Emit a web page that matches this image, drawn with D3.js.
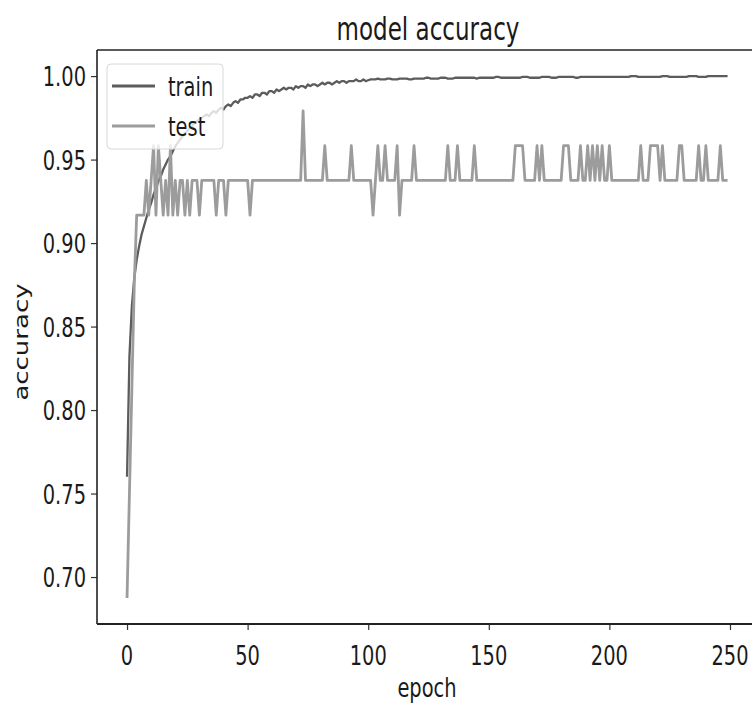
<!DOCTYPE html>
<html><head><meta charset="utf-8">
<script src="https://cdn.jsdelivr.net/npm/d3@7"></script>
<style>html,body{margin:0;padding:0;background:#fff;overflow:hidden}</style>
</head><body>
<script>
const epochs = d3.range(0, 250);
const trainAcc = [
0.760,0.832,0.862,0.879,0.890,0.898,0.905,0.910,0.915,0.920,
0.924,0.929,0.933,0.937,0.940,0.944,0.947,0.950,0.952,0.955,
0.958,0.960,0.962,0.964,0.966,0.967,0.969,0.970,0.972,0.973,
0.974,0.975,0.976,0.977,0.976,0.978,0.979,0.978,0.980,0.981,
0.980,0.982,0.983,0.982,0.984,0.985,0.984,0.986,0.986,0.987,
0.987,0.988,0.987,0.989,0.989,0.988,0.990,0.990,0.989,0.991,
0.991,0.990,0.992,0.991,0.992,0.993,0.992,0.993,0.993,0.992,
0.994,0.993,0.994,0.994,0.993,0.995,0.994,0.995,0.995,0.994,
0.995,0.996,0.995,0.996,0.996,0.995,0.996,0.997,0.996,0.997,
0.997,0.996,0.997,0.997,0.997,0.998,0.997,0.997,0.998,0.997,
0.9975,0.998,0.998,0.998,0.9985,0.998,0.998,0.998,0.9985,0.9985,
0.998,0.998,0.998,0.9985,0.9985,0.9985,0.9985,0.998,0.998,0.9985,
0.9985,0.9985,0.9985,0.9985,0.999,0.999,0.9985,0.9985,0.9985,0.9985,
0.999,0.999,0.999,0.9985,0.9985,0.9985,0.999,0.999,0.999,0.999,
0.999,0.999,0.999,0.999,0.999,0.9985,0.999,0.999,0.999,0.999,
0.999,0.999,0.999,0.9995,0.9995,0.999,0.999,0.999,0.999,0.999,
0.999,0.999,0.999,0.999,0.9995,0.9995,0.9995,0.999,0.999,0.999,
0.999,0.999,0.9995,0.9995,0.9995,0.9995,0.999,0.999,0.999,0.9995,
0.9995,0.9995,0.9995,0.9995,0.9995,0.9995,0.999,0.999,0.9995,0.9995,
0.9995,0.9995,0.9995,0.9995,0.9995,0.9995,0.9995,0.9995,0.9995,0.9995,
0.9995,0.9995,0.9995,0.9995,0.9995,0.9995,0.9995,0.9995,0.9995,1.0,
1.0,1.0,0.9995,0.9995,0.9995,0.9995,0.9995,0.9995,0.9995,0.9995,
0.9995,0.9995,1.0,1.0,1.0,0.9995,0.9995,0.9995,0.9995,0.9995,
0.9995,0.9995,0.9995,1.0,1.0,1.0,1.0,0.9995,0.9995,0.9995,
0.9995,1.0,1.0,1.0,1.0,1.0,1.0,1.0,1.0,1.0
];
const testAcc = [
0.6875,0.75,0.8125,0.875,0.9167,0.9167,0.9167,0.9167,0.9375,0.9167,
0.9375,0.9583,0.9167,0.9583,0.9375,0.9167,0.9375,0.9167,0.9583,0.9167,
0.9375,0.9167,0.9375,0.9375,0.9167,0.9375,0.9167,0.9375,0.9375,0.9375,
0.9167,0.9375,0.9375,0.9375,0.9375,0.9375,0.9375,0.9167,0.9375,0.9375,
0.9375,0.9167,0.9375,0.9375,0.9375,0.9375,0.9375,0.9375,0.9375,0.9375,
0.9375,0.9167,0.9375,0.9375,0.9375,0.9375,0.9375,0.9375,0.9375,0.9375,
0.9375,0.9375,0.9375,0.9375,0.9375,0.9375,0.9375,0.9375,0.9375,0.9375,
0.9375,0.9375,0.9375,0.9792,0.9375,0.9375,0.9375,0.9375,0.9375,0.9375,
0.9375,0.9375,0.9583,0.9375,0.9375,0.9375,0.9375,0.9375,0.9375,0.9375,
0.9375,0.9375,0.9375,0.9583,0.9375,0.9375,0.9375,0.9375,0.9375,0.9375,
0.9375,0.9375,0.9167,0.9375,0.9583,0.9375,0.9375,0.9583,0.9375,0.9375,
0.9375,0.9375,0.9583,0.9167,0.9375,0.9375,0.9375,0.9375,0.9375,0.9583,
0.9375,0.9375,0.9375,0.9375,0.9375,0.9375,0.9375,0.9375,0.9375,0.9375,
0.9375,0.9375,0.9375,0.9583,0.9375,0.9375,0.9375,0.9583,0.9375,0.9375,
0.9375,0.9375,0.9375,0.9375,0.9583,0.9375,0.9375,0.9375,0.9375,0.9375,
0.9375,0.9375,0.9375,0.9375,0.9375,0.9375,0.9375,0.9375,0.9375,0.9375,
0.9375,0.9583,0.9583,0.9583,0.9583,0.9375,0.9375,0.9375,0.9375,0.9375,
0.9583,0.9375,0.9583,0.9375,0.9375,0.9375,0.9375,0.9375,0.9375,0.9375,
0.9375,0.9583,0.9583,0.9583,0.9375,0.9375,0.9375,0.9375,0.9583,0.9375,
0.9375,0.9583,0.9375,0.9583,0.9375,0.9583,0.9375,0.9583,0.9375,0.9375,
0.9583,0.9375,0.9375,0.9375,0.9375,0.9375,0.9375,0.9375,0.9375,0.9375,
0.9375,0.9375,0.9375,0.9583,0.9375,0.9375,0.9375,0.9583,0.9583,0.9583,
0.9583,0.9375,0.9583,0.9375,0.9375,0.9375,0.9375,0.9375,0.9375,0.9583,
0.9583,0.9375,0.9375,0.9375,0.9375,0.9375,0.9375,0.9583,0.9375,0.9375,
0.9583,0.9375,0.9375,0.9375,0.9375,0.9375,0.9583,0.9375,0.9375,0.9375
];
const xTicks = [0, 50, 100, 150, 200, 250];
const yTicks = [0.70, 0.75, 0.80, 0.85, 0.90, 0.95, 1.00];
const seriesNames = ["train", "test"];
const seriesColors = ["#5c5c5c", "#9c9c9c"];

const W = 752, H = 707;
const SQ = 0.72; // horizontal squeeze of the glyphs in the reference
const FONT = "DejaVu Sans";
const plot = {left: 97, right: 757.6, top: 50, bottom: 624};

const x = d3.scaleLinear().domain([-12.45, 261.45]).range([plot.left, plot.right]);
const y = d3.scaleLinear().domain([0.671875, 1.015625]).range([plot.bottom, plot.top]);

const svg = d3.select("body").append("svg").attr("width", W).attr("height", H)
  .style("font-family", FONT);

svg.append("defs").append("clipPath").attr("id", "clip")
  .append("rect").attr("x", plot.left).attr("y", plot.top)
  .attr("width", plot.right - plot.left).attr("height", plot.bottom - plot.top);

function sqText(g, tx, ty, str, size, anchor, rotate) {
  return g.append("text")
    .attr("transform", rotate
      ? `translate(${tx},${ty}) rotate(-90) scale(1,${SQ})`
      : `translate(${tx},${ty}) scale(${SQ},1)`)
    .attr("text-anchor", anchor || "middle")
    .attr("font-size", size).attr("fill", "#1a1a1a").text(str);
}

// lines
const line = (vals) => d3.line().x((d, i) => x(epochs[i])).y(d => y(d))(vals);
const lines = svg.append("g").attr("clip-path", "url(#clip)");
[trainAcc, testAcc].forEach((vals, k) => {
  lines.append("path").attr("d", line(vals)).attr("fill", "none")
    .attr("stroke", seriesColors[k]).attr("stroke-width", k === 0 ? 2.3 : 2.8)
    .attr("stroke-linejoin", "round");
});

// axes (tick marks only, labels drawn squeezed)
const gx = svg.append("g").attr("transform", `translate(0,${plot.bottom})`)
  .call(d3.axisBottom(x).tickValues(xTicks).tickSize(6).tickFormat(""));
const gy = svg.append("g").attr("transform", `translate(${plot.left},0)`)
  .call(d3.axisLeft(y).tickValues(yTicks).tickSize(6).tickFormat(""));
[gx, gy].forEach(g => { g.select(".domain").remove(); g.selectAll("line").attr("stroke", "#333").attr("stroke-width", 1.2); });

xTicks.forEach(v => sqText(svg, x(v), 665, String(v), 27, "middle"));
yTicks.forEach(v => sqText(svg, 86, y(v) + 10, d3.format(".2f")(v), 27, "end"));

// spines
svg.append("line").attr("x1", plot.left).attr("x2", plot.left).attr("y1", plot.top).attr("y2", plot.bottom).attr("stroke", "#222").attr("stroke-width", 1.6);
svg.append("line").attr("x1", plot.left).attr("x2", W).attr("y1", plot.bottom).attr("y2", plot.bottom).attr("stroke", "#222").attr("stroke-width", 1.8);
svg.append("line").attr("x1", plot.left).attr("x2", W).attr("y1", plot.top).attr("y2", plot.top).attr("stroke", "#222").attr("stroke-width", 1.6);

// titles
sqText(svg, 428, 40, "model accuracy", 32, "middle");
sqText(svg, 427, 697, "epoch", 27, "middle");
sqText(svg, 28, 342, "accuracy", 26, "middle", true);

// legend
const lg = svg.append("g");
lg.append("rect").attr("x", 107).attr("y", 64).attr("width", 116).attr("height", 85)
  .attr("rx", 4).attr("fill", "#fff").attr("fill-opacity", 0.8)
  .attr("stroke", "#d8d8d8").attr("stroke-width", 1);
seriesNames.forEach((nm, k) => {
  const yy = 86 + k * 40;
  lg.append("line").attr("x1", 112).attr("x2", 155).attr("y1", yy).attr("y2", yy)
    .attr("stroke", seriesColors[k]).attr("stroke-width", 3);
  sqText(lg, 168, yy + 10, nm, 27, "start");
});
</script>
</body></html>
